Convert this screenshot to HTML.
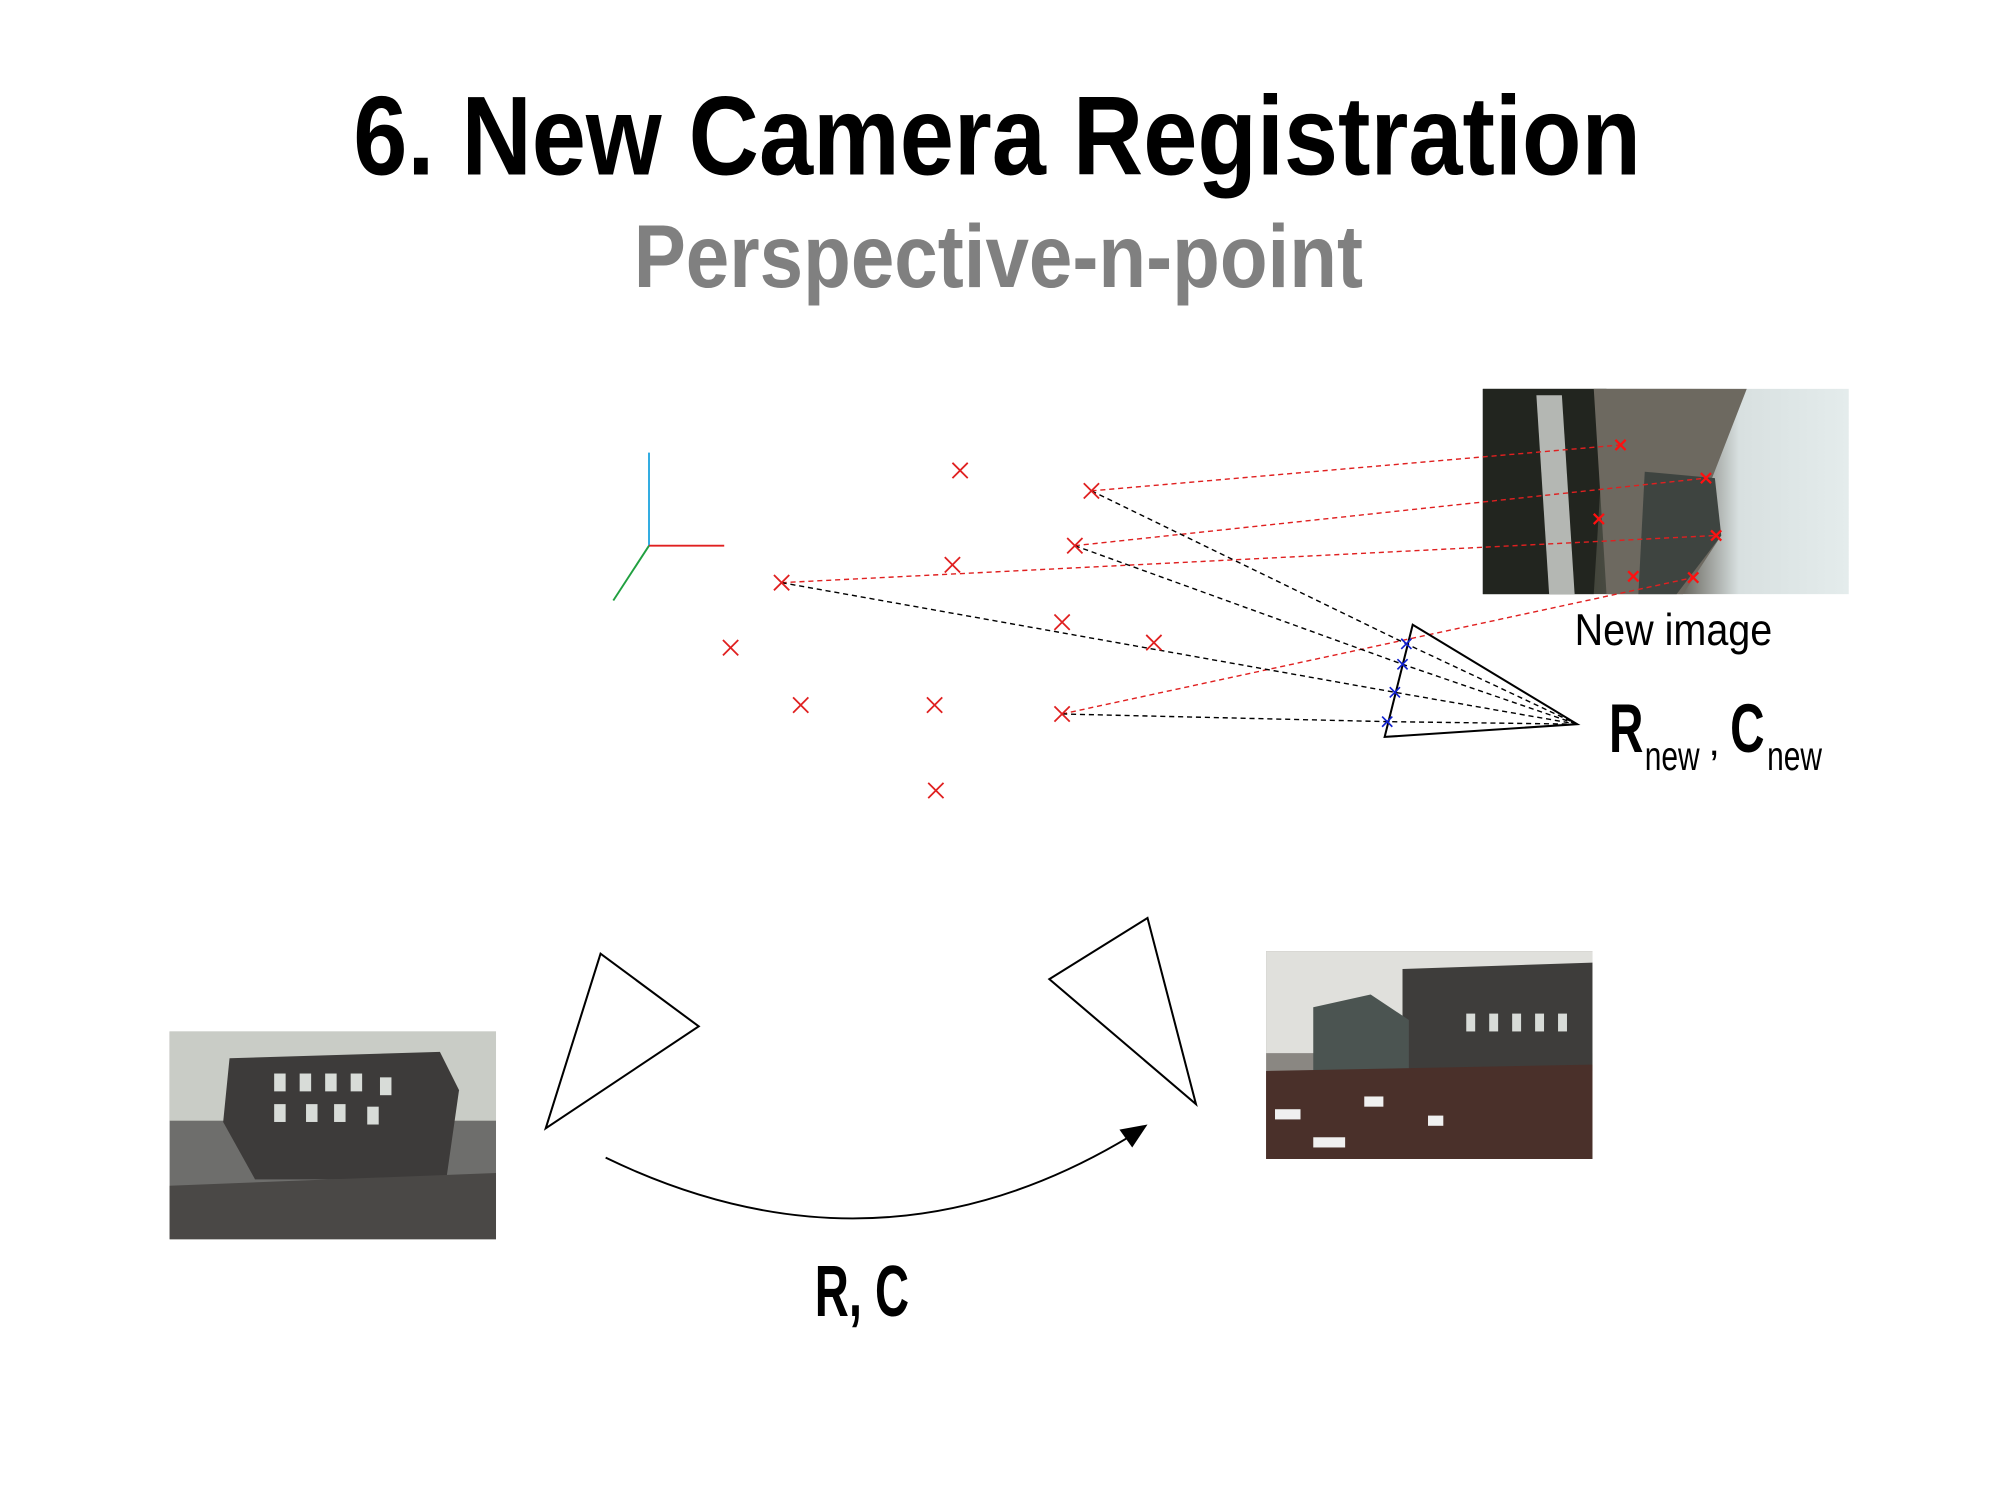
<!DOCTYPE html>
<html><head><meta charset="utf-8"><style>
html,body{margin:0;padding:0;background:#fff;}
svg{display:block;}
</style></head><body>
<svg width="2000" height="1500" viewBox="0 0 1568.6 1176.5" xmlns="http://www.w3.org/2000/svg">
<defs>
<linearGradient id="sky" x1="0" y1="0" x2="1" y2="0">
<stop offset="0" stop-color="#1e2420"/><stop offset="0.25" stop-color="#3a3d33"/><stop offset="0.55" stop-color="#6b6a62"/><stop offset="0.7" stop-color="#d8e0e0"/><stop offset="1" stop-color="#e4ecec"/>
</linearGradient>
</defs>
<g font-family="'Liberation Sans Narrow','Liberation Sans',sans-serif">
<text x="277" y="137" font-size="88" font-weight="bold" textLength="1010" lengthAdjust="spacingAndGlyphs" fill="#000">6. New Camera Registration</text>
<text x="497" y="225" font-size="70" font-weight="bold" textLength="572" lengthAdjust="spacingAndGlyphs" fill="#808080">Perspective-n-point</text>
</g>

<!-- top-right image -->
<rect x="1163" y="305" width="287" height="161" fill="url(#sky)"/>
<polygon points="1163,305 1260,305 1250,466 1163,466" fill="#22251f"/>
<polygon points="1205,310 1225,310 1235,466 1215,466" fill="#d9dcd8" opacity="0.8"/>
<polygon points="1250,305 1370,305 1335,395 1350,420 1320,466 1260,466" fill="#6d6960"/>
<polygon points="1290,370 1345,375 1350,420 1315,466 1285,466" fill="#3e4440"/>

<!-- bottom-left image -->
<rect x="133" y="809" width="256" height="163" fill="#6e6e6c"/>
<rect x="133" y="809" width="256" height="70" fill="#c9ccc6"/>
<polygon points="180,830 345,825 360,855 350,925 200,925 175,880" fill="#3d3b3a"/>
<g fill="#d8dcd8"><rect x="215" y="842" width="9" height="14"/><rect x="235" y="842" width="9" height="14"/><rect x="255" y="842" width="9" height="14"/><rect x="275" y="842" width="9" height="14"/><rect x="298" y="845" width="9" height="14"/><rect x="215" y="866" width="9" height="14"/><rect x="240" y="866" width="9" height="14"/><rect x="262" y="866" width="9" height="14"/><rect x="288" y="868" width="9" height="14"/></g>
<polygon points="133,930 389,920 389,972 133,972" fill="#4a4846"/>
<!-- bottom-right image -->
<rect x="993" y="746" width="256" height="163" fill="#8a8782"/>
<rect x="993" y="746" width="256" height="80" fill="#e0e0dc"/>
<polygon points="1100,760 1249,755 1249,840 1100,840" fill="#3e3d3b"/>
<polygon points="1030,790 1075,780 1105,800 1105,840 1030,840" fill="#4b5451"/>
<g fill="#d8dcd8"><rect x="1150" y="795" width="7" height="14"/><rect x="1168" y="795" width="7" height="14"/><rect x="1186" y="795" width="7" height="14"/><rect x="1204" y="795" width="7" height="14"/><rect x="1222" y="795" width="7" height="14"/></g>
<polygon points="993,840 1249,835 1249,909 993,909" fill="#4a302a"/>
<g fill="#f0f0f0"><rect x="1000" y="870" width="20" height="8"/><rect x="1070" y="860" width="15" height="8"/><rect x="1030" y="892" width="25" height="8"/><rect x="1120" y="875" width="12" height="8"/></g>

<!-- axes -->
<line x1="509" y1="428" x2="509" y2="355" stroke="#2aa9e0" stroke-width="1.5"/>
<line x1="509" y1="428" x2="568" y2="428" stroke="#e02020" stroke-width="1.5"/>
<line x1="509" y1="428" x2="481" y2="471" stroke="#20a040" stroke-width="1.5"/>

<!-- red dashed -->
<g stroke="#e02020" stroke-width="1.1" stroke-dasharray="4,3" fill="none">
<line x1="856" y1="385" x2="1271" y2="349"/>
<line x1="843" y1="428" x2="1338" y2="375"/>
<line x1="613" y1="457" x2="1346" y2="420"/>
<line x1="833" y1="560" x2="1328" y2="453"/>
</g>
<!-- black dashed -->
<g stroke="#000" stroke-width="1.1" stroke-dasharray="4,3" fill="none">
<polyline points="856,385 1103,505 1237,568"/>
<polyline points="843,428 1100,521 1237,568"/>
<polyline points="613,457 1094,543 1237,568"/>
<polyline points="833,560 1088,566 1237,568"/>
</g>
<!-- frustum -->
<polygon points="1108,490 1237,568 1086,578" fill="none" stroke="#000" stroke-width="1.6"/>

<!-- red crosses -->
<g stroke="#e02020" stroke-width="1.4">
<path d="M747,363l12,12M759,363l-12,12"/>
<path d="M850,379l12,12M862,379l-12,12"/>
<path d="M741,437l12,12M753,437l-12,12"/>
<path d="M837,422l12,12M849,422l-12,12"/>
<path d="M607,451l12,12M619,451l-12,12"/>
<path d="M567,502l12,12M579,502l-12,12"/>
<path d="M827,482l12,12M839,482l-12,12"/>
<path d="M899,498l12,12M911,498l-12,12"/>
<path d="M622,547l12,12M634,547l-12,12"/>
<path d="M727,547l12,12M739,547l-12,12"/>
<path d="M827,554l12,12M839,554l-12,12"/>
<path d="M728,614l12,12M740,614l-12,12"/>
</g>
<g stroke="#ff1010" stroke-width="1.8">
<path d="M1267,345l8,8M1275,345l-8,8"/>
<path d="M1334,371l8,8M1342,371l-8,8"/>
<path d="M1250,403l8,8M1258,403l-8,8"/>
<path d="M1342,416l8,8M1350,416l-8,8"/>
<path d="M1277,448l8,8M1285,448l-8,8"/>
<path d="M1324,449l8,8M1332,449l-8,8"/>
</g>
<g stroke="#1020d0" stroke-width="1.3">
<path d="M1099,501l8,8M1107,501l-8,8"/>
<path d="M1096,517l8,8M1104,517l-8,8"/>
<path d="M1090,539l8,8M1098,539l-8,8"/>
<path d="M1084,562l8,8M1092,562l-8,8"/>
</g>

<!-- bottom cameras -->
<polygon points="471,748 548,805 428,885" fill="none" stroke="#000" stroke-width="1.6"/>
<polygon points="900,720 938,866 823,768" fill="none" stroke="#000" stroke-width="1.6"/>
<path d="M475,908 Q690,1012 890,889" fill="none" stroke="#000" stroke-width="1.5"/>
<polygon points="900,882 878,886 888,900" fill="#000"/>

<g font-family="'Liberation Sans Narrow','Liberation Sans',sans-serif">
<text x="1235" y="506" font-size="35" textLength="155" lengthAdjust="spacingAndGlyphs" fill="#000">New image</text>
<text x="1262" y="590" font-size="54" font-weight="bold" textLength="27" lengthAdjust="spacingAndGlyphs" fill="#000">R</text>
<text x="1290" y="604" font-size="32" textLength="43" lengthAdjust="spacingAndGlyphs" fill="#000">new</text>
<text x="1340" y="592" font-size="32" fill="#000">,</text>
<text x="1357" y="590" font-size="54" font-weight="bold" textLength="27" lengthAdjust="spacingAndGlyphs" fill="#000">C</text>
<text x="1386" y="604" font-size="32" textLength="43" lengthAdjust="spacingAndGlyphs" fill="#000">new</text>
<text x="639" y="1032" font-size="57" font-weight="bold" textLength="74" lengthAdjust="spacingAndGlyphs" fill="#000">R, C</text>
</g>
</svg>
</body></html>
